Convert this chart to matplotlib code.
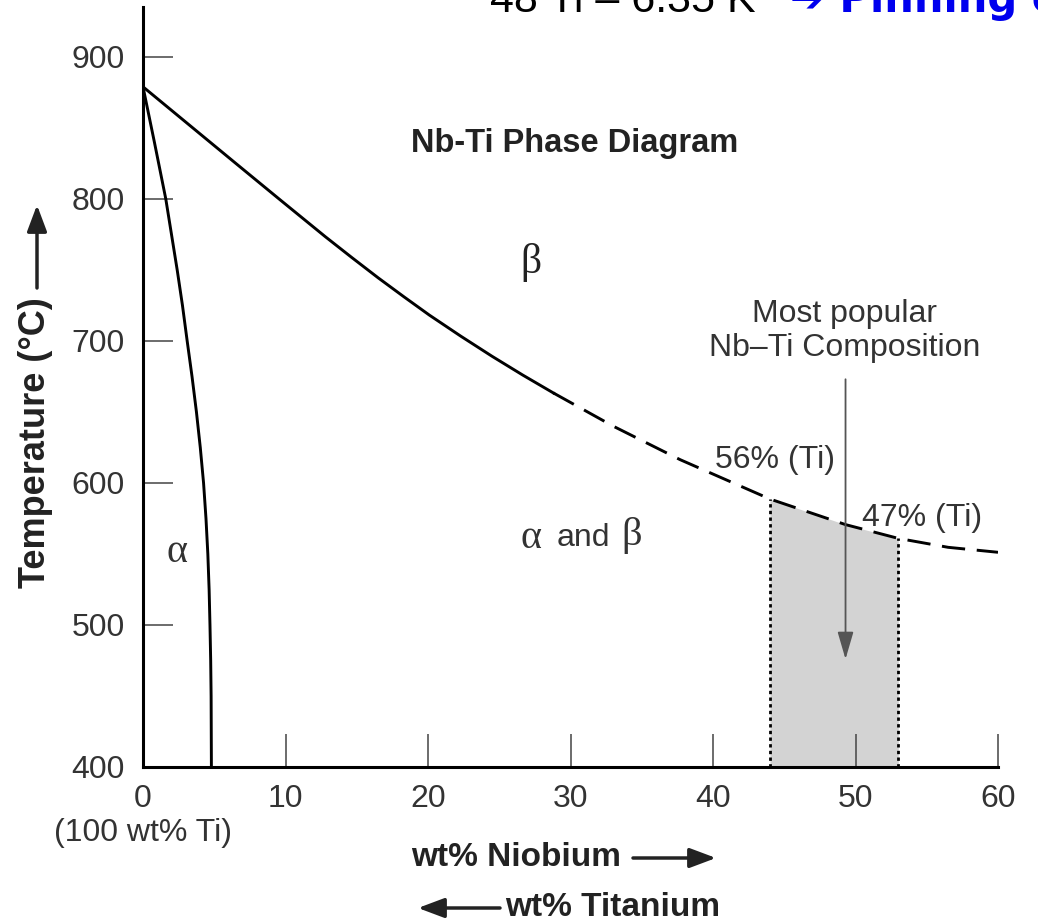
import numpy as np
import matplotlib
matplotlib.use('Agg')
import matplotlib.pyplot as plt
from matplotlib.patches import FancyArrowPatch

plt.rcParams['font.family'] = ['Liberation Sans', 'DejaVu Sans']

# beta transus (solid part, then the dashed part)
beta_x = [0, 3.2, 6.4, 9.6, 12.8, 14.65, 16.5, 18.3, 20.1, 22.3, 24.5,
          26.65, 28.8]
beta_t = [879, 852.5, 826, 799.6, 773.4, 758.8, 744.5, 731.2, 718.2,
          703.4, 689.2, 676, 663.4]
beta_dash_x = [28.8, 33, 37.7, 44, 49.3, 53, 56.5, 60]
beta_dash_t = [663.4, 640, 616.4, 588.7, 570.7, 561, 554.7, 551.2]

# alpha transus
alpha_x = [0, 0.8, 1.6, 2.0, 2.4, 2.77, 3.1, 3.44, 3.75, 4.02, 4.25, 4.42,
           4.55, 4.64, 4.7, 4.75, 4.78, 4.79, 4.8]
alpha_t = [879, 840, 800, 775, 750, 725, 700, 675, 650, 625, 600, 575,
           550, 525, 500, 475, 450, 425, 400]

# most popular composition band (wt% Nb)
band_lo, band_hi = 44, 53
arrow_x = 49.3

x_ticks = [0, 10, 20, 30, 40, 50, 60]
y_ticks = [400, 500, 600, 700, 800, 900]

W, H = 1038, 924
fig = plt.figure(figsize=(W / 100, H / 100), dpi=100)
ax = fig.add_axes([143 / W, (H - 767) / H, 855 / W, 760 / H])
ax.set_xlim(0, 60)
ax.set_ylim(400, 935.2)

# band fill under the curve
bx = np.linspace(band_lo, band_hi, 50)
bt = np.interp(bx, beta_dash_x, beta_dash_t)
ax.fill_between(bx, 400, bt, color='#d3d3d3', lw=0, zorder=1)
for xv in (band_lo, band_hi):
    ax.plot([xv, xv], [400, np.interp(xv, beta_dash_x, beta_dash_t)],
            color='black', lw=2, ls=(0, (1.2, 1.2)), zorder=2)

ax.plot(beta_x, beta_t, color='black', lw=2.1, zorder=3)
ax.plot(beta_dash_x, beta_dash_t, color='black', lw=2.1,
        ls=(0, (8, 4)), zorder=3)
ax.plot(alpha_x, alpha_t, color='black', lw=2.1, zorder=3)

# composition arrow
ax.annotate('', xy=(arrow_x, 474), xytext=(arrow_x, 675),
            arrowprops=dict(arrowstyle='-|>,head_length=1.2,head_width=0.35',
                            color='#555555', lw=1.3, mutation_scale=14))

# spines and ticks
for s in ('top', 'right'):
    ax.spines[s].set_visible(False)
for s in ('left', 'bottom'):
    ax.spines[s].set_linewidth(2.2)
ax.set_xticks(x_ticks)
ax.set_yticks(y_ticks)
ax.tick_params(axis='x', direction='in', length=24, width=1.1,
               color='#444444', labelsize=23, labelcolor='#333333', pad=12)
ax.tick_params(axis='y', direction='in', length=21.5, width=1.1,
               color='#444444', labelsize=23, labelcolor='#333333', pad=13)

serif = ['Liberation Serif', 'DejaVu Serif']

# labels inside the plot
ax.text(30.3, 839, 'Nb-Ti Phase Diagram', fontsize=23.5, fontweight='bold',
        ha='center', va='center', color='#222222')
ax.text(27.2, 755, 'β', fontsize=30, ha='center', va='center',
        color='#222222', family=serif)
ax.text(27.2, 561, 'α', fontsize=29, ha='center', va='center',
        color='#333333', family=serif)
ax.text(30.9, 561, 'and', fontsize=23, ha='center', va='center',
        color='#333333')
ax.text(34.3, 563, 'β', fontsize=29, ha='center', va='center',
        color='#333333', family=serif)
ax.text(2.4, 551, 'α', fontsize=29, ha='center', va='center',
        color='#333333', family=serif)
ax.text(49.26, 707, 'Most popular\nNb–Ti Composition', fontsize=23,
        ha='center', va='center', color='#333333', linespacing=1.15)
ax.text(44.35, 616, '56% (Ti)', fontsize=23, ha='center', va='center',
        color='#333333')
ax.text(54.7, 575.5, '47% (Ti)', fontsize=23, ha='center', va='center',
        color='#333333')

# text under the axis
fig.text(143 / W, 1 - 833 / H, '(100 wt% Ti)', fontsize=23, ha='center',
         va='center', color='#333333')
fig.text(411 / W, 1 - 858 / H, 'wt% Niobium', fontsize=24,
         fontweight='bold', ha='left', va='center', color='#222222')
fig.text(720 / W, 1 - 908 / H, 'wt% Titanium', fontsize=24,
         fontweight='bold', ha='right', va='center', color='#222222')
arr = dict(arrowstyle='-|>,head_length=0.8,head_width=0.3', color='#222222',
           lw=2.5, mutation_scale=20, shrinkA=0, shrinkB=0,
           transform=fig.transFigure)
fig.add_artist(FancyArrowPatch((633 / W, 1 - 858 / H),
                               (716 / W, 1 - 858 / H), **arr))
fig.add_artist(FancyArrowPatch((500 / W, 1 - 908 / H),
                               (418 / W, 1 - 908 / H), **arr))

# y label with arrow
fig.text(36 / W, 1 - 443 / H, 'Temperature (°C)', fontsize=26,
         fontweight='bold', rotation=90, ha='center', va='center',
         color='#222222')
fig.add_artist(FancyArrowPatch((37 / W, 1 - 288 / H),
                               (37 / W, 1 - 205 / H), **arr))

# cropped heading at the very top
fig.text(490 / W, 1 - 12 / H, '48 Ti – 6.35 K', fontsize=31,
         ha='left', va='baseline', color='black')
fig.text(790 / W, 1 - 12 / H, '➔ Pinning centers', fontsize=30,
         fontweight='bold', ha='left', va='baseline', color='#0000ee',
         family=['DejaVu Sans'])

fig.savefig('out.png', dpi=100)
